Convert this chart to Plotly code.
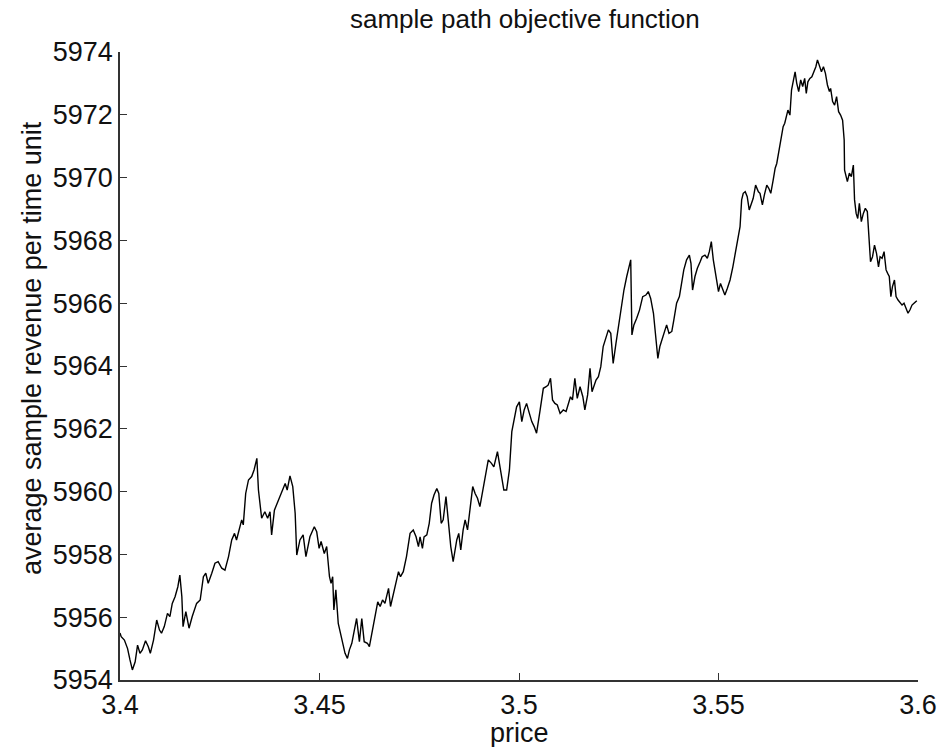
import plotly.graph_objects as go

# --- data (price, average sample revenue) ---
price_1 = [3.4000, 3.4003, 3.4011, 3.4019, 3.4025, 3.4031, 3.4038, 3.4044, 3.4050, 3.4056,
           3.4064, 3.4071, 3.4076, 3.4084, 3.4092, 3.4099, 3.4104, 3.4111, 3.4119, 3.4125,
           3.4131, 3.4138, 3.4145, 3.4150, 3.4155, 3.4158, 3.4165, 3.4173, 3.4181, 3.4192,
           3.4201, 3.4209, 3.4215, 3.4221, 3.4230, 3.4238, 3.4246, 3.4255, 3.4263, 3.4272,
           3.4280, 3.4287, 3.4292, 3.4298, 3.4305, 3.4309, 3.4315, 3.4322, 3.4330, 3.4336,
           3.4343, 3.4347, 3.4355, 3.4363, 3.4370, 3.4376, 3.4380, 3.4387, 3.4397, 3.4405,
           3.4414, 3.4419, 3.4426, 3.4433, 3.4439, 3.4443, 3.4451, 3.4459, 3.4466, 3.4476,
           3.4487, 3.4493, 3.4499, 3.4504, 3.4512]
revenue_1 = [5955.50, 5955.38, 5955.27, 5955.00, 5954.64, 5954.32, 5954.58, 5955.11, 5954.85, 5954.96,
             5955.25, 5955.06, 5954.85, 5955.27, 5955.91, 5955.59, 5955.49, 5955.70, 5956.12, 5956.02,
             5956.44, 5956.65, 5956.97, 5957.34, 5956.65, 5955.70, 5956.18, 5955.65, 5956.02, 5956.44,
             5956.55, 5957.29, 5957.40, 5957.08, 5957.40, 5957.72, 5957.77, 5957.56, 5957.50, 5957.93,
             5958.46, 5958.67, 5958.46, 5958.78, 5959.10, 5958.94, 5959.94, 5960.37, 5960.48, 5960.69,
             5961.06, 5960.05, 5959.15, 5959.36, 5959.15, 5959.36, 5958.62, 5959.41, 5959.73, 5959.94,
             5960.26, 5960.05, 5960.50, 5960.16, 5959.31, 5957.98, 5958.46, 5958.62, 5957.93, 5958.56,
             5958.88, 5958.72, 5958.19, 5958.41, 5958.03]

price_2 = [3.4518, 3.4525, 3.4529, 3.4533, 3.4536, 3.4541, 3.4547, 3.4553, 3.4560, 3.4564,
           3.4570, 3.4575, 3.4581, 3.4586, 3.4593, 3.4600, 3.4606, 3.4612, 3.4620, 3.4625,
           3.4631, 3.4639, 3.4646, 3.4652, 3.4658, 3.4664, 3.4673, 3.4678, 3.4685, 3.4692,
           3.4698, 3.4703, 3.4710, 3.4718, 3.4727, 3.4735, 3.4742, 3.4748, 3.4752, 3.4758,
           3.4762, 3.4769, 3.4775, 3.4781, 3.4787, 3.4794, 3.4799, 3.4805, 3.4810, 3.4817,
           3.4823, 3.4829, 3.4835, 3.4844, 3.4849, 3.4854, 3.4860, 3.4865, 3.4871, 3.4877,
           3.4884, 3.4890, 3.4896, 3.4902, 3.4909, 3.4916, 3.4923, 3.4931, 3.4937, 3.4946,
           3.4951, 3.4957, 3.4962, 3.4969, 3.4976, 3.4982, 3.4987, 3.4994, 3.5001]
revenue_2 = [5958.25, 5957.29, 5957.08, 5957.29, 5956.23, 5956.87, 5955.80, 5955.49, 5955.06, 5954.85,
             5954.69, 5954.96, 5955.17, 5955.49, 5955.96, 5955.22, 5955.96, 5955.22, 5955.17, 5955.06,
             5955.49, 5956.12, 5956.49, 5956.34, 5956.55, 5956.44, 5956.92, 5956.34, 5956.76, 5957.13,
             5957.45, 5957.29, 5957.45, 5957.93, 5958.67, 5958.78, 5958.56, 5958.25, 5958.56, 5958.19,
             5958.56, 5958.62, 5958.99, 5959.63, 5959.89, 5960.10, 5959.94, 5958.99, 5959.10, 5959.84,
             5958.99, 5958.25, 5957.77, 5958.46, 5958.67, 5958.14, 5958.78, 5959.10, 5958.78, 5959.41,
             5960.16, 5959.94, 5959.79, 5959.52, 5960.05, 5960.48, 5961.01, 5960.90, 5960.79, 5961.27,
             5960.90, 5960.37, 5960.05, 5960.05, 5960.69, 5961.91, 5962.28, 5962.70, 5962.86]

price_3 = [3.5007, 3.5013, 3.5019, 3.5026, 3.5032, 3.5038, 3.5044, 3.5053, 3.5061, 3.5068,
           3.5073, 3.5079, 3.5084, 3.5090, 3.5096, 3.5103, 3.5111, 3.5118, 3.5124, 3.5129,
           3.5134, 3.5140, 3.5146, 3.5153, 3.5160, 3.5165, 3.5172, 3.5178, 3.5183, 3.5188,
           3.5193, 3.5199, 3.5205, 3.5211, 3.5218, 3.5224, 3.5230, 3.5236, 3.5243, 3.5250,
           3.5256, 3.5263, 3.5270, 3.5277, 3.5280, 3.5283, 3.5288, 3.5295, 3.5302, 3.5310,
           3.5318, 3.5324, 3.5330, 3.5337, 3.5343, 3.5348, 3.5353, 3.5360, 3.5366, 3.5370,
           3.5376, 3.5383, 3.5388, 3.5395, 3.5402, 3.5408, 3.5413, 3.5420, 3.5427, 3.5431,
           3.5435, 3.5441, 3.5447, 3.5454, 3.5459, 3.5466, 3.5472, 3.5477, 3.5482, 3.5487,
           3.5494, 3.5500]
revenue_3 = [5962.23, 5962.60, 5962.81, 5962.49, 5962.23, 5962.07, 5961.86, 5962.60, 5963.29, 5963.34,
             5963.39, 5963.61, 5962.92, 5962.81, 5962.76, 5962.49, 5962.60, 5962.55, 5962.86, 5963.02,
             5962.92, 5963.61, 5962.97, 5963.34, 5963.02, 5962.60, 5963.08, 5963.93, 5963.18, 5963.34,
             5963.55, 5963.66, 5963.98, 5964.62, 5964.94, 5965.15, 5965.04, 5964.08, 5964.72, 5965.36,
             5965.89, 5966.42, 5966.85, 5967.21, 5967.38, 5964.99, 5965.31, 5965.52, 5965.78, 5966.21,
             5966.26, 5966.37, 5966.15, 5965.68, 5964.93, 5964.24, 5964.62, 5964.93, 5965.15, 5965.31,
             5965.04, 5965.10, 5965.46, 5966.00, 5966.21, 5966.63, 5967.06, 5967.38, 5967.53, 5967.27,
             5966.42, 5966.85, 5967.11, 5967.32, 5967.48, 5967.53, 5967.43, 5967.64, 5967.96, 5967.38,
             5966.85, 5966.37]

price_4 = [3.5505, 3.5510, 3.5516, 3.5522, 3.5529, 3.5536, 3.5542, 3.5549, 3.5554, 3.5558,
           3.5562, 3.5567, 3.5572, 3.5577, 3.5583, 3.5587, 3.5593, 3.5600, 3.5604, 3.5610,
           3.5615, 3.5621, 3.5626, 3.5631, 3.5637, 3.5642, 3.5646, 3.5652, 3.5657, 3.5662,
           3.5666, 3.5669, 3.5674, 3.5679, 3.5683, 3.5688, 3.5692, 3.5696, 3.5701, 3.5706,
           3.5711, 3.5716, 3.5720, 3.5724, 3.5729, 3.5734, 3.5739, 3.5744, 3.5748, 3.5753,
           3.5758, 3.5763, 3.5768, 3.5773, 3.5778, 3.5781, 3.5786, 3.5791, 3.5796, 3.5801,
           3.5806, 3.5811, 3.5815, 3.5816, 3.5820, 3.5823, 3.5828, 3.5833, 3.5838, 3.5841,
           3.5845, 3.5849, 3.5853, 3.5858, 3.5863, 3.5868, 3.5873, 3.5877, 3.5881, 3.5886,
           3.5891, 3.5896, 3.5901, 3.5905, 3.5910, 3.5915, 3.5920, 3.5924, 3.5928, 3.5932,
           3.5936, 3.5941, 3.5945, 3.5950, 3.5955, 3.5960, 3.5965, 3.5970, 3.5975, 3.5980,
           3.5985, 3.5990, 3.5997]
revenue_4 = [5966.63, 5966.47, 5966.26, 5966.47, 5966.74, 5967.16, 5967.59, 5968.01, 5968.44, 5969.29,
             5969.50, 5969.55, 5969.39, 5968.97, 5969.23, 5969.34, 5969.76, 5969.55, 5969.50, 5969.13,
             5969.45, 5969.76, 5969.66, 5969.50, 5969.92, 5970.30, 5970.45, 5970.88, 5971.30, 5971.62,
             5971.73, 5971.89, 5972.15, 5971.99, 5972.79, 5973.11, 5973.37, 5973.01, 5972.74, 5973.11,
             5972.90, 5973.16, 5972.68, 5973.05, 5973.16, 5973.21, 5973.37, 5973.53, 5973.75, 5973.58,
             5973.37, 5973.53, 5973.32, 5972.95, 5972.74, 5972.84, 5972.42, 5972.31, 5972.58, 5972.10,
             5971.99, 5971.83, 5971.20, 5970.24, 5970.03, 5969.87, 5970.14, 5970.03, 5970.40, 5969.29,
             5968.86, 5968.70, 5969.18, 5968.60, 5968.86, 5969.02, 5968.92, 5968.23, 5967.32, 5967.48,
             5967.85, 5967.59, 5967.16, 5967.48, 5967.43, 5967.64, 5967.06, 5966.95, 5966.85, 5966.21,
             5966.53, 5966.74, 5966.21, 5966.10, 5966.00, 5965.94, 5966.00, 5965.84, 5965.68, 5965.79,
             5965.94, 5966.00, 5966.08]

x_ticks = [3.4, 3.45, 3.5, 3.55, 3.6]
x_tick_labels = ["3.4", "3.45", "3.5", "3.55", "3.6"]
y_ticks = [5954, 5956, 5958, 5960, 5962, 5964, 5966, 5968, 5970, 5972, 5974]

chart_title = "sample path objective function"
x_title = "price"
y_title = "average sample revenue per time unit"

price = price_1 + price_2 + price_3 + price_4
revenue = revenue_1 + revenue_2 + revenue_3 + revenue_4

FONT = "Liberation Sans, Arial, sans-serif"
TXT = "#111111"

fig = go.Figure()
fig.add_trace(go.Scatter(
    x=price, y=revenue, mode="lines",
    line=dict(color="#000000", width=1.4),
    showlegend=False, hoverinfo="skip",
))

axis_common = dict(
    showline=True, linecolor="#333333", linewidth=1.5,
    ticks="inside", ticklen=7, tickwidth=1.3, tickcolor="#333333",
    showgrid=False, zeroline=False, mirror=False, automargin=False,
    tickfont=dict(family=FONT, size=27, color=TXT),
)

fig.update_layout(
    width=941, height=747,
    margin=dict(l=120, r=23, t=52, b=67),
    paper_bgcolor="white", plot_bgcolor="white",
    xaxis=dict(range=[3.4, 3.6], tickvals=x_ticks, ticktext=x_tick_labels, **axis_common),
    yaxis=dict(range=[5954, 5974], tickvals=y_ticks, **axis_common),
    annotations=[
        dict(text=chart_title, xref="paper", yref="paper", x=0.507, y=1.0,
             yshift=33, xanchor="center", yanchor="middle", showarrow=False,
             font=dict(family=FONT, size=26, color=TXT)),
        dict(text=x_title, xref="paper", yref="paper", x=0.5, y=0.0,
             yshift=-53, xanchor="center", yanchor="middle", showarrow=False,
             font=dict(family=FONT, size=27, color=TXT)),
        dict(text=y_title, xref="paper", yref="paper", x=0.0, y=0.5287,
             xshift=-88, xanchor="center", yanchor="middle", textangle=-90,
             showarrow=False, font=dict(family=FONT, size=27, color=TXT)),
    ],
)

fig.write_html("out.html")
